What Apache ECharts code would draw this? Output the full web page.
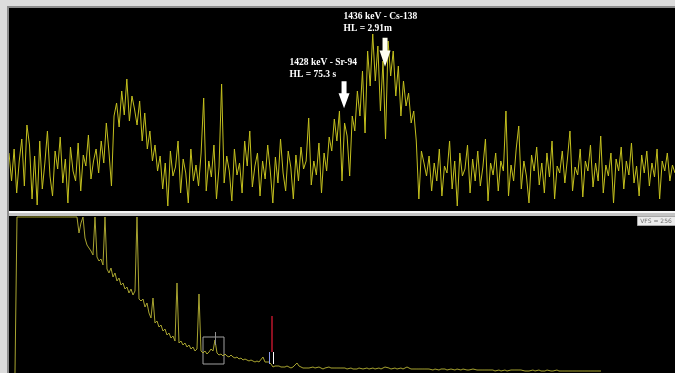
<!DOCTYPE html>
<html><head><meta charset="utf-8">
<script src="https://cdn.jsdelivr.net/npm/echarts@6/dist/echarts.min.js"></script>
<style>html,body{margin:0;padding:0;background:#dcdcdc;overflow:hidden}#c{width:675px;height:373px}</style>
</head><body><div id="c"></div>
<script>
// ---- zoomed spectrum (top panel), counts per 0.5 keV channel ----
const topStartKeV = 1362.6;
const topStepKeV = 0.5;
const topEndKeV = 1492.6;
const topCounts = [
58,30,62,18,50,72,25,86,66,12, 55,6,70,22,48,80,35,15,60,42, 74,28,52,8,64,40,30,68,20,56, 45,76,32,50,62,38,
70,48,88,60,25,95,108,84,120,96, 132,90,115,102,86,110,70,98,62,80, 50,66,40,
55,22,48,5,60,35,44,70,18,52, 38,8,62,30,46,25,58,113,20,50, 34,66,12,44,127,28,55,40,10,62,
36,48,18,70,45,80,24,45,58,15, 50,32,66,40,8,54,28,72,38,20, 60,44,12,56,30,64,42,50,93,26,
50,36,68,18,58,40,74,
60,92,70,100,30,88,75,35,95,80,
120,95,140,78,160,125,177,130,165,100, 150,72,170,135,160,115,145,95,130,105, 118,
88,100,70,12,60,48,35,
55,20,48,30,62,15,45,38,70,22, 50,5,58,35,42,66,18,52,30,60, 25,44,72,10,48,36,58,20,50,40,
100,15,46,30,62,85,22,50,35,8, 56,40,64,26,48,18,58,34,70,12, 45,38,60,28,52,80,20,44,36,62,
14,50,40,66,24,48,30,75,18,46, 35,58,8,52,40,64,22,50,36,68, 28,45,15,56,38,60,25,48,34,62,
12,50,40,58,30,46,38
];

// ---- full spectrum (bottom panel); 156 = display full scale (saturated) ----
const bottomMinKeV = 161.7;
const bottomMaxKeV = 4284.2;
const bottomStartKeV = 198.8;
const bottomStepKeV = 12.38;
const bottomCounts = [
0,
156,156,156,156,156,156,156,156,156,156, 156,156,156,156,156,156,156,156,156,156,
156,156,156,156,156,156,156,156,156,156, 156,
140,150,156,135,128,125,122,118,156,116, 112,114,108,156,104,100,105,96,100,92,
95,88,90,84,86,80,84,78,82,156, 74,72,74,66,70,60,55,75,50,52,
46,48,42,44,38,40,35,37,32,90, 30,32,28,30,26,28,24,26,22,24,
79,22,20,22,19,21,24,22,33,20, 18,19,17,19,17,16,18,16,15,16,
14,15,13,14,13,12,13,12,11,12, 11,13,16,11,10,11,9,6,7,6,
7,6,5,6,7,6,5,6,8,10, 7,6,5,6,5,5,
5,6,5,5,6,5,4,5,5,6,5,4,5,5,4,5,6,5,4,5,
5,4,5,4,5,5,4,4,5,4,4,5,4,4,5,4,5,6,7,5,
4,4,5,4,4,5,4,5,6,5,4,4,3,4,4,3,4,4,3,4,
4,3,4,3,3,4,3,4,3,3,4,3,3,4,3,3,4,3,3,3,
3,4,3,3,3,4,3,3,2,3,3,3,2,3,3,2,3,3,2,3,
3,2,3,2,3,3,2,2,3,2,2,3,2,2,3,2,2,2,3,2,
2,2,2,3,2,2,2,2,3,2,2,2,2,2,2,3,2,2,2,2,
2,2,2,2,2,2
];

// ---- annotations ----
const peakKeV = [1428, 1436];
const peakArrowTip = [102.7, 144.3];
const peakArrowLen = [27, 29];
const peakLabels = ['1428 keV - Sr-94\nHL = 75.3 s', '1436 keV - Cs-138\nHL = 2.91m'];
const peakLabelPos = [[-49, -25], [-36, -27]];
const cursorKeV = 1436;
const roiLeftKeV = 1774, roiMarkKeV = 1790, roiRightKeV = 1799;

const arrowPath = 'path://M3,0 L8,0 L8,12 L11,12 L5.5,27 L0,12 L3,12 Z';

const topData = topCounts.map((c, i) => [topStartKeV + i * topStepKeV, c]);
const bottomData = bottomCounts.map((c, i) => [bottomStartKeV + i * bottomStepKeV, c]);

const chart = echarts.init(document.getElementById('c'), null, {renderer: 'canvas'});
chart.setOption({
  animation: false,
  backgroundColor: '#dcdcdc',
  grid: [
    {left: 9, right: 0, top: 8, height: 203, show: true, backgroundColor: '#000', borderWidth: 0},
    {left: 9, right: 0, top: 216, height: 157, show: true, backgroundColor: '#000', borderWidth: 0}
  ],
  xAxis: [
    {type: 'value', gridIndex: 0, min: topStartKeV, max: topEndKeV, show: false},
    {type: 'value', gridIndex: 1, min: bottomMinKeV, max: bottomMaxKeV, show: false}
  ],
  yAxis: [
    {type: 'value', gridIndex: 0, min: 0, max: 203, show: false},
    {type: 'value', gridIndex: 1, min: 0, max: 157, show: false}
  ],
  series: [
    {
      type: 'line', xAxisIndex: 0, yAxisIndex: 0, data: topData,
      showSymbol: false, clip: true,
      lineStyle: {color: '#c4c01e', width: 1},
      markPoint: {
        silent: true,
        data: peakKeV.map((e, k) => ({
          coord: [e, peakArrowTip[k]],
          symbol: arrowPath,
          symbolSize: [11, peakArrowLen[k]],
          symbolOffset: [0, '-50%'],
          itemStyle: {color: k === 1 ? '#fffff0' : '#ffffff'},
          label: {
            show: true, position: peakLabelPos[k], align: 'left', verticalAlign: 'top',
            formatter: peakLabels[k], color: '#ffffff',
            fontFamily: 'Liberation Serif', fontWeight: 'bold', fontSize: 9.5, lineHeight: 12
          }
        }))
      }
    },
    {
      type: 'line', xAxisIndex: 1, yAxisIndex: 1, data: bottomData,
      showSymbol: false, clip: true,
      lineStyle: {color: '#a8a430', width: 1},
      markArea: {
        silent: true,
        itemStyle: {color: 'rgba(0,0,0,0)', borderColor: '#a0a0a0', borderWidth: 1},
        data: [[{coord: [topStartKeV, 9]}, {coord: [topEndKeV, 36]}]]
      },
      markLine: {
        silent: true, symbol: ['none', 'none'], label: {show: false},
        data: [
          [{coord: [cursorKeV, 28], lineStyle: {color: '#909090', width: 1, type: 'solid'}}, {coord: [cursorKeV, 41]}],
          [{coord: [roiMarkKeV, 21], lineStyle: {color: '#8c1020', width: 2, type: 'solid'}}, {coord: [roiMarkKeV, 57]}],
          [{coord: [roiLeftKeV, 9], lineStyle: {color: '#8c9cf0', width: 1, type: 'solid'}}, {coord: [roiLeftKeV, 21]}],
          [{coord: [roiRightKeV, 9], lineStyle: {color: '#ffffff', width: 1, type: 'solid'}}, {coord: [roiRightKeV, 21]}]
        ]
      }
    }
  ],
  graphic: [
    {type: 'rect', shape: {x: 7, y: 6, width: 668, height: 2}, style: {fill: '#8c8c8c'}, z: 10},
    {type: 'rect', shape: {x: 7, y: 6, width: 2, height: 367}, style: {fill: '#8c8c8c'}, z: 10},
    {type: 'rect', shape: {x: 9, y: 211, width: 666, height: 2}, style: {fill: '#f6f6f6'}, z: 10},
    {type: 'rect', shape: {x: 9, y: 213, width: 666, height: 3}, style: {fill: '#c4c4c4'}, z: 10},
    {type: 'rect', shape: {x: 637.5, y: 216.5, width: 38, height: 9}, style: {fill: '#ececec', stroke: '#a8a8a8', lineWidth: 1}, z: 100},
    {type: 'text', x: 656, y: 221.5, style: {text: 'VFS = 256', fontSize: 6, fontFamily: 'DejaVu Sans', fill: '#707070', align: 'center', verticalAlign: 'middle'}, z: 101}
  ]
});
</script></body></html>
